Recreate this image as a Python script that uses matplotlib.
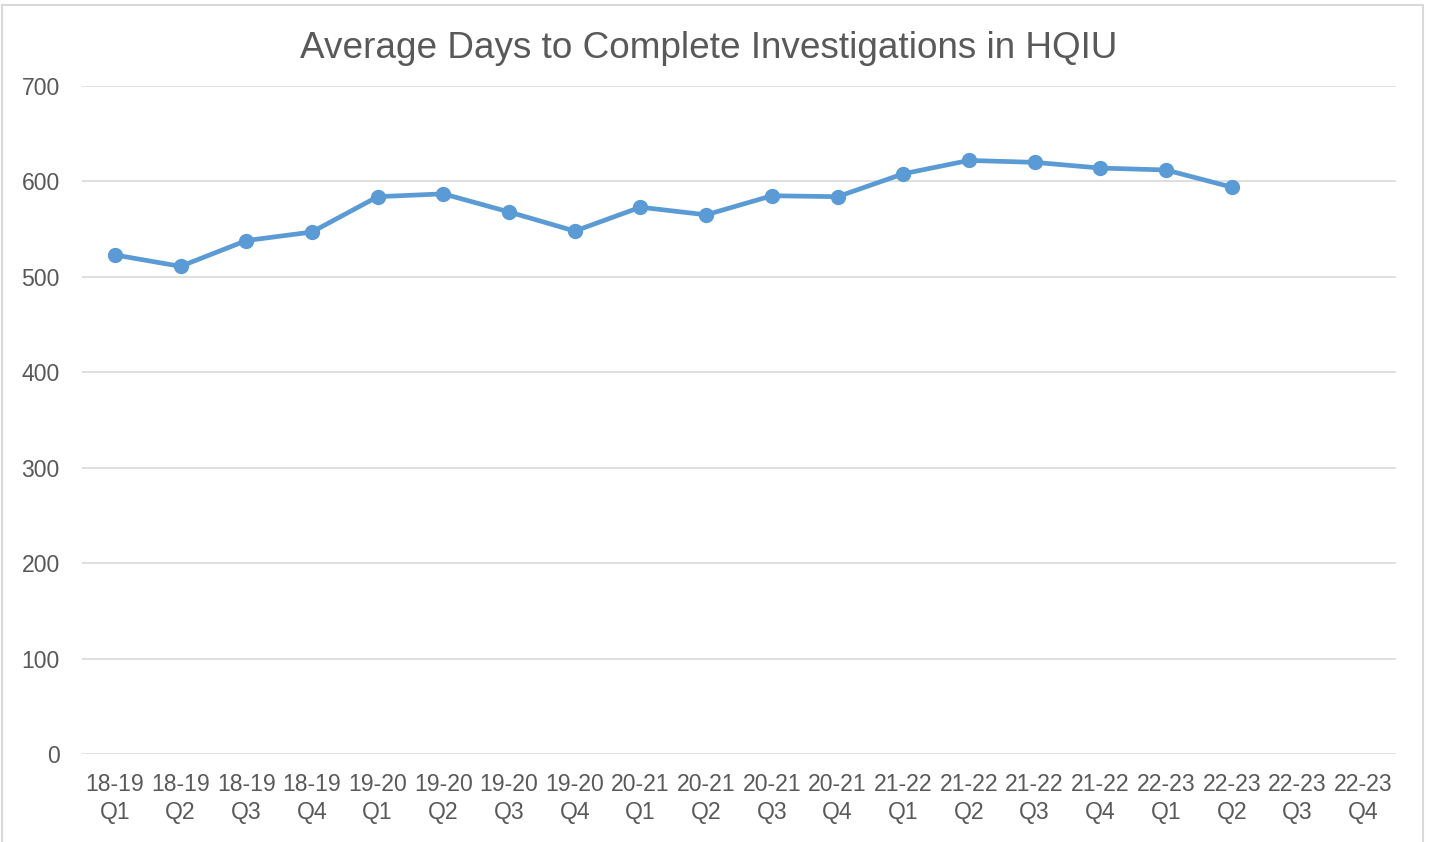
import matplotlib
matplotlib.use("Agg")
import matplotlib.pyplot as plt
import matplotlib.patches as mpatches

# dados
years = ["18-19"] * 4 + ["19-20"] * 4 + ["20-21"] * 4 + ["21-22"] * 4 + ["22-23"] * 4
quarters = ["Q1", "Q2", "Q3", "Q4"] * 5
labels = [y + "\n" + q for y, q in zip(years, quarters)]
days = [523, 511, 538, 547, 584, 587, 568, 548, 573, 565,
        585, 584, 608, 622, 620, 614, 612, 594]

plt.rcParams['font.family'] = ['Liberation Sans', 'DejaVu Sans']
txt = '#595959'

fig = plt.figure(figsize=(14.29, 8.42), dpi=100)
ax = fig.add_axes([82 / 1429, 1 - 754 / 842, 1314 / 1429, 668 / 842])

x = list(range(len(days)))
ax.plot(x, days, color='#5B9BD5', linewidth=3.4, marker='o', markersize=10,
        zorder=3)

ax.set_xlim(-0.5, len(labels) - 0.5)
ax.set_ylim(0, 700)
ax.set_yticks(range(0, 701, 100))
ax.set_xticks(range(len(labels)))
ax.set_xticklabels(labels, linespacing=1.3)
ax.tick_params(axis='both', length=0, labelsize=16.6, colors=txt)
ax.tick_params(axis='x', pad=13.5)
ax.tick_params(axis='y', pad=16)
ax.grid(axis='y', color='#D9D9D9', linewidth=1.2)
ax.set_axisbelow(True)
for s in ax.spines.values():
    s.set_visible(False)

fig.text(709 / 1429, 1 - 48 / 842, 'Average Days to Complete Investigations in HQIU',
         ha='center', va='center', fontsize=26.6, color=txt)

# moldura do grafico
fig.patches.append(mpatches.Rectangle((2 / 1429, -0.05), 1421 / 1429, 1.05 - 5 / 842,
                                      transform=fig.transFigure, fill=False,
                                      edgecolor='#D9D9D9', linewidth=1.5))

fig.savefig('out.png', dpi=100)
